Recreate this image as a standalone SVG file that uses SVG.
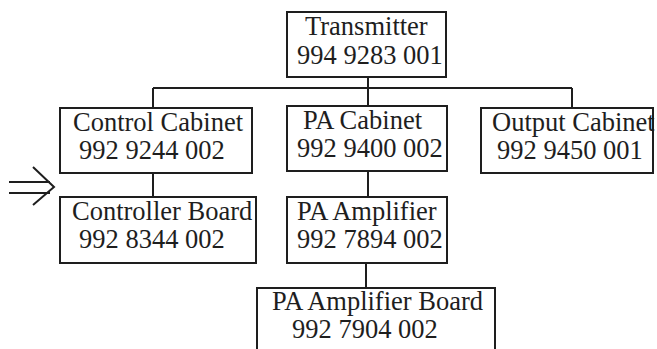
<svg xmlns="http://www.w3.org/2000/svg" width="657" height="349" viewBox="0 0 657 349">
<style>
.box{fill:#fff;stroke:#1e1e1e;stroke-width:2}
.t{font-family:"Liberation Serif","Times New Roman",serif;font-size:26.5px;fill:#1e1e1e}
.c{fill:none;stroke:#1e1e1e;stroke-width:2}
</style>
<rect width="657" height="349" fill="#fff"/>
<g id="connectors">
<path class="c" d="M368 77V88M153 88H572M153 88V108M368 88V106M572 88V108M153 173V197M368 171V197M366 263V288"/>
<path class="c" d="M9 182H50M9 193H50M33 167L54 187L33 205"/>
</g>
<g id="transmitter"><rect class="box" x="287" y="12" width="159" height="65"/><text class="t" x="305" y="35">Transmitter</text><text class="t" x="297" y="64">994 9283 001</text></g>
<g id="control-cabinet"><rect class="box" x="60" y="108" width="192" height="65"/><text class="t" x="73" y="131">Control Cabinet</text><text class="t" x="79" y="159">992 9244 002</text></g>
<g id="controller-board"><rect class="box" x="60" y="197" width="196" height="66"/><text class="t" x="72" y="220">Controller Board</text><text class="t" x="79" y="248">992 8344 002</text></g>
<g id="pa-cabinet"><rect class="box" x="287" y="106" width="160" height="65"/><text class="t" x="303" y="129">PA Cabinet</text><text class="t" x="297" y="157">992 9400 002</text></g>
<g id="pa-amplifier"><rect class="box" x="287" y="197" width="160" height="66"/><text class="t" x="297" y="220">PA Amplifier</text><text class="t" x="297" y="248">992 7894 002</text></g>
<g id="output-cabinet"><rect class="box" x="481" y="108" width="172" height="65"/><text class="t" x="492" y="131">Output Cabinet</text><text class="t" x="497" y="159">992 9450 001</text></g>
<g id="pa-amplifier-board"><rect class="box" x="257" y="288" width="238" height="72"/><text class="t" x="272" y="310">PA Amplifier Board</text><text class="t" x="292" y="338">992 7904 002</text></g>
</svg>
